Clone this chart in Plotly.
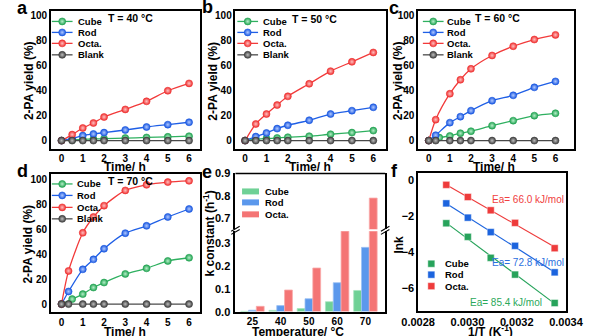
import numpy as np
import plotly.graph_objects as go

# ---------------- data ----------------
# reaction time (h)
t_std = [0, 0.5, 1, 1.5, 2, 3, 4, 5, 6]
t_fast = [0, 0.33, 1, 1.5, 2, 3, 4, 5, 6]

# 2-PA yield (%) at 40 °C
cube_40 = [0, 0.5, 1.0, 1.3, 1.5, 2.0, 2.5, 3.0, 3.5]
rod_40 = [0, 1.5, 4.0, 5.3, 6.4, 8.5, 10.9, 12.8, 14.7]
octa_40 = [0, 4.8, 10.1, 14.1, 18.9, 25.0, 31.5, 40.0, 45.9]
blank_40 = [0, 0, 0, 0, 0, 0, 0, 0, 0]

# 2-PA yield (%) at 50 °C
cube_50 = [0, 1.1, 1.6, 2.1, 2.7, 3.5, 5.1, 6.4, 8.0]
rod_50 = [0, 3.2, 6.1, 9.6, 12.3, 16.3, 21.3, 24.0, 26.7]
octa_50 = [0, 13.3, 21.3, 28.5, 35.5, 45.6, 55.7, 63.2, 70.7]
blank_50 = [0, 0, 0, 0, 0, 0, 0, 0, 0]

# 2-PA yield (%) at 60 °C
cube_60 = [0, 2.4, 3.7, 5.9, 7.5, 12.0, 16.0, 20.0, 21.9]
rod_60 = [0, 4.3, 14.4, 19.2, 24.0, 32.0, 36.3, 42.7, 47.5]
octa_60 = [0, 16.8, 37.6, 48.8, 57.6, 68.3, 75.7, 81.1, 84.8]
blank_60 = [0, 0, 0, 0, 0, 0, 0, 0, 0]

# 2-PA yield (%) at 70 °C
cube_70 = [0, 4.0, 8.0, 13.3, 17.3, 24.2, 28.7, 34.6, 37.2]
rod_70 = [0, 10.1, 27.9, 35.9, 44.4, 56.9, 62.8, 69.9, 76.3]
octa_70 = [0, 26.6, 57.2, 69.9, 79.0, 91.2, 95.7, 97.9, 98.9]
blank_70 = [0, 0, 0, 0, 0, 0, 0, 0, 0]

# rate constants k (h^-1)
temps_c = [25, 40, 50, 60, 70]
temp_labels = ["25", "40", "50", "60", "70"]
k_cube = [0.00106, 0.0052, 0.0133, 0.043, 0.092]
k_rod = [0.0059, 0.026, 0.056, 0.126, 0.28]
k_octa = [0.0228, 0.094, 0.19, 0.40, 0.79]

# k-axis ticks below and above the break
k_ticks_low = [0, 0.1, 0.2, 0.3]
k_ticks_high = [0.7, 0.8, 0.9]

# apparent activation energies (kJ/mol)
ea_cube = 85.4
ea_rod = 72.8
ea_octa = 66.0

series_names = ["Cube", "Rod", "Octa.", "Blank"]

# ---------------- style ----------------
FONT = "Liberation Sans"
W, H = 600, 336

line_col = {"Cube": "#2fb060", "Rod": "#1f5fe6", "Octa.": "#f23a3a", "Blank": "#4a4a4a"}
ball_col = {"Cube": "#22a352", "Rod": "#1a58e0", "Octa.": "#ef3030", "Blank": "#3e3e3e"}
ball_hi = {"Cube": "#b5efc8", "Rod": "#b0c8ff", "Octa.": "#ffc0c0", "Blank": "#bdbdbd"}
bar_col = {"Cube": "#6fd196", "Rod": "#5b98ec", "Octa.": "#f47575"}
bar_edge = {"Cube": "#a6e5bf", "Rod": "#9cc2f5", "Octa.": "#f9aaaa"}
sq_col = {"Cube": "#27a35b", "Rod": "#1c64de", "Octa.": "#ee3b3b"}
ea_col = {"Cube": "#2aa85a", "Rod": "#2b6fe0", "Octa.": "#f04040"}


def px(x):
    return x / W


def py(y):
    return 1 - y / H


def ball(name, size=7):
    return dict(color=ball_col[name], size=size,
                gradient=dict(type="radial", color=ball_hi[name]),
                line=dict(width=0.6, color=ball_col[name]))


fig = go.Figure()

# ---------------- panels a-d: yield vs time ----------------
kinetics = [
    ("x", "y", {"Cube": (t_std, cube_40), "Rod": (t_std, rod_40),
                "Octa.": (t_std, octa_40), "Blank": (t_std, blank_40)}),
    ("x2", "y2", {"Cube": (t_std, cube_50), "Rod": (t_std, rod_50),
                  "Octa.": (t_std, octa_50), "Blank": (t_std, blank_50)}),
    ("x3", "y3", {"Cube": (t_std, cube_60), "Rod": (t_fast, rod_60),
                  "Octa.": (t_fast, octa_60), "Blank": (t_fast, blank_60)}),
    ("x4", "y4", {"Cube": (t_std, cube_70), "Rod": (t_fast, rod_70),
                  "Octa.": (t_fast, octa_70), "Blank": (t_fast, blank_70)}),
]
for xa, ya, sets in kinetics:
    for name in series_names:
        tx, vy = sets[name]
        fig.add_trace(go.Scatter(
            x=tx, y=vy, xaxis=xa, yaxis=ya, mode="lines+markers",
            line=dict(color=line_col[name], width=1.3, shape="spline", smoothing=0.7),
            marker=ball(name), showlegend=False, hoverinfo="skip", cliponaxis=False))

# ---------------- panel e: broken-axis bar chart ----------------
temp_pos = list(range(len(temp_labels)))
for ya in ("y5", "y6"):
    for name, kv in (("Cube", k_cube), ("Rod", k_rod), ("Octa.", k_octa)):
        fig.add_trace(go.Bar(
            x=temp_pos, y=kv, xaxis="x5", yaxis=ya, offsetgroup=name,
            marker=dict(color=bar_col[name], line=dict(color=bar_edge[name], width=0.8)),
            showlegend=False, hoverinfo="skip"))

# ---------------- panel f: Arrhenius plot ----------------
inv_T = [1.0 / (t + 273.15) for t in temps_c]
R = 8.314
for name, kv, ea in (("Cube", k_cube, ea_cube), ("Rod", k_rod, ea_rod), ("Octa.", k_octa, ea_octa)):
    lnk = np.log(kv)
    slope = -ea * 1000.0 / R
    icpt = float(np.mean(lnk - slope * np.array(inv_T)))
    xs = [min(inv_T), max(inv_T)]
    fig.add_trace(go.Scatter(
        x=xs, y=[slope * v + icpt for v in xs], xaxis="x7", yaxis="y7", mode="lines",
        line=dict(color=sq_col[name], width=1.2), showlegend=False, hoverinfo="skip"))
    fig.add_trace(go.Scatter(
        x=inv_T, y=lnk, xaxis="x7", yaxis="y7", mode="markers",
        marker=dict(symbol="square", size=7, color=sq_col[name],
                    line=dict(width=0.8, color="rgba(255,255,255,0.55)")),
        showlegend=False, hoverinfo="skip", cliponaxis=False))

# ---------------- legend keys (pixel overlay) ----------------
legend_rows = {
    "a": (37, 59, 48, 63, [20.5, 31.5, 42.5, 54]),
    "b": (234, 256, 245, 259, [20.5, 31.5, 42.5, 54]),
    "c": (431, 453, 442, 455, [20.5, 31.5, 42.5, 54]),
    "d": (37, 59, 48, 62, [183.5, 195, 207, 218.5]),
}
annotations = []
shapes = []
for key, (lx0, lx1, mx, tx, rows) in legend_rows.items():
    for name, ry in zip(series_names, rows):
        fig.add_trace(go.Scatter(
            x=[lx0, lx1], y=[ry, ry], xaxis="x8", yaxis="y8", mode="lines",
            line=dict(color=line_col[name], width=1.3), showlegend=False, hoverinfo="skip"))
        fig.add_trace(go.Scatter(
            x=[mx], y=[ry], xaxis="x8", yaxis="y8", mode="markers",
            marker=ball(name), showlegend=False, hoverinfo="skip"))
        annotations.append(dict(x=tx, y=ry, xref="x8", yref="y8", text=name, showarrow=False,
                                xanchor="left", yanchor="middle",
                                font=dict(family=FONT, size=9.5, color="black", weight="bold")))

# bar legend (panel e)
for name, ry in zip(["Cube", "Rod", "Octa."], [191, 202, 214]):
    shapes.append(dict(type="rect", xref="x8", yref="y8", x0=239, x1=257, y0=ry - 3, y1=ry + 3,
                       fillcolor=bar_col[name], line=dict(width=0)))
    annotations.append(dict(x=261, y=ry, xref="x8", yref="y8", text=name, showarrow=False,
                            xanchor="left", yanchor="middle",
                            font=dict(family=FONT, size=9.5, color="black", weight="bold")))

# square legend (panel f)
for name, ry in zip(["Cube", "Rod", "Octa."], [263.5, 274.5, 286]):
    fig.add_trace(go.Scatter(
        x=[440], y=[ry], xaxis="x8", yaxis="y8", mode="markers",
        marker=dict(symbol="square", size=7, color=sq_col[name],
                    line=dict(width=0.8, color="rgba(255,255,255,0.55)")),
        showlegend=False, hoverinfo="skip"))
    annotations.append(dict(x=452, y=ry, xref="x8", yref="y8", text=name, showarrow=False,
                            xanchor="left", yanchor="middle",
                            font=dict(family=FONT, size=9.5, color="black", weight="bold")))

# activation energy labels
for name, ea, ax_, ay_ in (("Octa.", ea_octa, 502, 199), ("Rod", ea_rod, 502, 262),
                           ("Cube", ea_cube, 479, 302)):
    annotations.append(dict(x=ax_, y=ay_, xref="x8", yref="y8", text=f"Ea= {ea:.1f} kJ/mol",
                            showarrow=False, xanchor="left", yanchor="middle",
                            font=dict(family=FONT, size=10, color=ea_col[name])))

# temperature labels
for txt, cx, cy in (("T = 40 °C", 121, 17.5), ("T = 50 °C", 316, 18),
                    ("T = 60 °C", 510, 17.5), ("T = 70 °C", 121, 181)):
    annotations.append(dict(x=cx, y=cy, xref="x8", yref="y8", text=txt, showarrow=False,
                            xanchor="center", yanchor="middle",
                            font=dict(family=FONT, size=10.5, color="black", weight="bold")))

# panel letters
for txt, cx, cy in (("a", 6, 7), ("b", 202, 6), ("c", 400, 7),
                    ("d", 6, 170.5), ("e", 202, 172), ("f", 401, 170.5)):
    annotations.append(dict(x=cx, y=cy, xref="x8", yref="y8", text=txt, showarrow=False,
                            xanchor="center", yanchor="middle",
                            font=dict(family=FONT, size=18, color="black", weight="bold")))

# axis titles
title_font = dict(family=FONT, size=12, color="black", weight="bold")
for txt, cx, cy in (("Time/ h", 115, 166), ("Time/ h", 311, 166), ("Time/ h", 507, 166),
                    ("Time/ h", 115, 331.5), ("Temperature/ °C", 298, 331.5),
                    ("1/T (K<sup>-1</sup>)", 503, 330.5)):
    annotations.append(dict(x=cx, y=cy, xref="x8", yref="y8", text=txt, showarrow=False,
                            xanchor="center", yanchor="middle", font=title_font))
for txt, cx, cy in (("2-PA yield (%)", 12, 80), ("2-PA yield (%)", 208, 80),
                    ("2-PA yield (%)", 404, 80), ("2-PA yield (%)", 12, 244),
                    ("k constant (h<sup>-1</sup>)", 204, 233), ("lnk", 406, 244)):
    annotations.append(dict(x=cx, y=cy, xref="x8", yref="y8", text=txt, showarrow=False,
                            textangle=-90, xanchor="center", yanchor="middle", font=title_font))

# split k-axis geometry of panel e (pixel extents and value ranges)
e_low_px, e_low_rng = (311.5, 231.0), (0.0, 0.35)
e_high_px, e_high_rng = (229.0, 173.0), (0.65, 0.9)


def k_to_px(v, span, rng):
    return span[0] + (v - rng[0]) / (rng[1] - rng[0]) * (span[1] - span[0])


# k-axis tick labels, positioned with the split axes' own scales
tf_big = dict(family=FONT, size=11, color="black", weight="bold")
for span, rng, vals in ((e_low_px, e_low_rng, k_ticks_low), (e_high_px, e_high_rng, k_ticks_high)):
    for v in vals:
        annotations.append(dict(x=228.5, y=k_to_px(v, span, rng), xref="x8", yref="y8",
                                text=f"{v:.1f}", showarrow=False, xanchor="right",
                                yanchor="middle", font=tf_big))

# frame pieces and axis-break marks for panel e
shapes.append(dict(type="line", xref="x8", yref="y8", x0=232, x1=391, y0=173, y1=173,
                   line=dict(color="black", width=1.5)))
for bx in (232, 391):
    for dy in (-1.6, 1.6):
        shapes.append(dict(type="line", xref="x8", yref="y8", x0=bx - 4.5, x1=bx + 4.5,
                           y0=230 + dy + 2.5, y1=230 + dy - 2.5,
                           line=dict(color="black", width=1.1)))

# ---------------- axes ----------------
tick_font = dict(family=FONT, size=10, color="black", weight="bold")

layout = dict(
    width=W, height=H, margin=dict(l=0, r=0, t=0, b=0),
    paper_bgcolor="white", plot_bgcolor="rgba(0,0,0,0)",
    barmode="group", bargap=0.17, bargroupgap=0.0,
    showlegend=False,
    annotations=annotations, shapes=shapes,
    font=dict(family=FONT, color="black"),
)


def main_axis(domain, rng, **kw):
    # framed axis carrying the tick labels; tick marks come from a twin axis
    d = dict(domain=domain, range=rng, showline=True, linecolor="black", linewidth=1.5,
             mirror=True, ticks="", showgrid=False, zeroline=False,
             tickfont=tick_font, fixedrange=True, ticklabeloverflow="allow")
    d.update(kw)
    return d


twin_no = [9]


def add_tick_twin(letter, base, anchor, rng, tickvals, side):
    # overlaying axis drawing short outside tick marks only
    n = twin_no[0]
    twin_no[0] += 1
    layout[f"{letter}axis{n}"] = dict(
        overlaying=base, anchor=anchor, side=side, range=rng, tickvals=tickvals,
        ticks="outside", ticklen=3, tickwidth=1.2, tickcolor="black",
        showticklabels=False, showline=False, showgrid=False, zeroline=False,
        fixedrange=True)


yield_vals = [0, 20, 40, 60, 80, 100]
time_vals = [0, 1, 2, 3, 4, 5, 6]
top = (py(148), py(10))
bot = (py(312), py(174))

kin_axes = [
    ("", (px(36), px(194)), [-0.5, 6.5], top),
    ("2", (px(232), px(392)), [-0.45, 6.6], top),
    ("3", (px(426), px(592)), [-0.5, 6.9], top),
    ("4", (px(36), px(194)), [-0.5, 6.5], bot),
]
for sfx, xdom, xr, ydom in kin_axes:
    layout[f"xaxis{sfx}"] = main_axis(xdom, xr, anchor=f"y{sfx}", tickvals=time_vals)
    layout[f"yaxis{sfx}"] = main_axis(ydom, [-6.4, 104], anchor=f"x{sfx}", tickvals=yield_vals)
    add_tick_twin("x", f"x{sfx}", f"y{sfx}", xr, time_vals, "bottom")
    add_tick_twin("y", f"y{sfx}", f"x{sfx}", [-6.4, 104], yield_vals, "left")

# panel e (temperature groups on x, split k axis)
e_xr = [-0.6, 4.7]
layout["xaxis5"] = main_axis((px(232), px(391)), e_xr, anchor="y5", mirror=False,
                             tickvals=temp_pos, ticktext=temp_labels)
layout["yaxis5"] = main_axis((py(e_low_px[0]), py(e_low_px[1])), list(e_low_rng), anchor="x5",
                             tickvals=k_ticks_low, showticklabels=False)
layout["yaxis6"] = main_axis((py(e_high_px[0]), py(e_high_px[1])), list(e_high_rng), anchor="x5",
                             tickvals=k_ticks_high, showticklabels=False)
add_tick_twin("x", "x5", "y5", e_xr, temp_pos, "bottom")
add_tick_twin("y", "y5", "x5", list(e_low_rng), k_ticks_low, "left")
add_tick_twin("y", "y6", "x5", list(e_high_rng), k_ticks_high, "left")

# panel f
f_xvals = [0.0028, 0.0030, 0.0032, 0.0034]
f_yvals = [0, -2, -4, -6]
layout["xaxis7"] = main_axis((px(426), px(583)), [0.0028, 0.0034], anchor="y7",
                             tickvals=f_xvals, tickformat=".4f", tickfont=tf_big)
layout["yaxis7"] = main_axis((py(311), py(173)), [-7.3, 0.4], anchor="x7",
                             tickvals=f_yvals, tickfont=tf_big)
add_tick_twin("x", "x7", "y7", [0.0028, 0.0034], f_xvals, "bottom")
add_tick_twin("y", "y7", "x7", [-7.3, 0.4], f_yvals, "left")

# pixel-space overlay used for keys and labels
layout["xaxis8"] = dict(domain=[0, 1], range=[0, W], visible=False, anchor="y8", fixedrange=True)
layout["yaxis8"] = dict(domain=[0, 1], range=[H, 0], visible=False, anchor="x8", fixedrange=True)

fig.update_layout(**layout)
fig.write_html("out.html")
